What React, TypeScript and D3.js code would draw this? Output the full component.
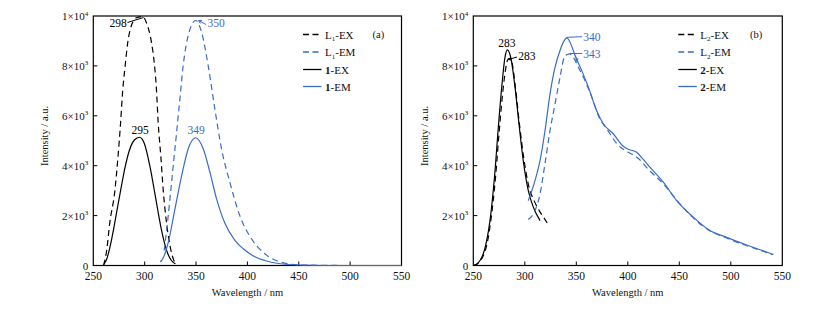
import React from "react";
import * as d3 from "d3";

// ---------- data ----------
// Panel (a)
const L1_EX_WL = [260, 263, 266, 271, 274, 276.5, 278.6, 281, 283.4, 287.3, 292, 298, 302, 306.8, 309.4, 311.4, 313.2, 315.8, 318.1, 321.4, 325.6, 330];
const L1_EX_I = [0, 600, 1700, 3000, 4340, 5680, 7000, 8000, 8900, 9640, 9930, 9980, 9700, 8900, 8100, 7100, 5700, 4340, 3000, 1670, 600, 50];

const L1_EM_WL = [319, 322.3, 324.6, 327.8, 331.1, 334.3, 337.5, 342.4, 349.6, 355.4, 361.8, 368.3, 374.8, 382.9, 392.6, 404, 417, 433, 453, 500, 550];
const L1_EM_I = [600, 1740, 2670, 4000, 5340, 6680, 8020, 9220, 9820, 9350, 8020, 6280, 4680, 3340, 2000, 1070, 470, 130, 20, 0, 0];

const C1_EX_WL = [260, 263, 266, 269.5, 273, 277, 281, 285, 290, 295, 299.6, 305, 310, 316.5, 321.4, 326, 330];
const C1_EX_I = [30, 250, 700, 1400, 2200, 3100, 3950, 4600, 5030, 5140, 4900, 4000, 2870, 1400, 600, 200, 70];

const C1_EM_WL = [315, 316.5, 323, 329.5, 336, 342.4, 349.6, 357, 363.5, 370, 378, 388, 396, 405, 417, 430, 450, 500, 550];
const C1_EM_I = [150, 200, 930, 2270, 3600, 4680, 5120, 4680, 3740, 2670, 1700, 1000, 670, 400, 200, 80, 20, 0, 0];

// Panel (b)
const L2_EX_WL = [250, 253, 256.5, 260, 263.5, 267, 271.5, 275, 278.5, 281.5, 283.5, 285.5, 288, 291, 295, 299, 304, 309, 314, 318, 321.8];
const L2_EX_I = [0, 30, 180, 420, 900, 1800, 3500, 5300, 6900, 7900, 8250, 8300, 8050, 7100, 5600, 4300, 3150, 2600, 2200, 1950, 1700];

const L2_EM_WL = [303.4, 309.9, 314.8, 319.6, 324.5, 329.4, 334.2, 338.4, 341.4, 343.4, 347, 352, 358, 365, 372, 380, 390, 400, 410, 420, 435, 450, 465, 480, 496, 512, 528, 541];
const L2_EM_I = [1840, 2200, 2870, 4080, 5410, 6480, 7550, 8350, 8460, 8480, 8350, 7950, 7450, 6750, 5950, 5450, 4850, 4550, 4300, 3850, 3250, 2500, 1850, 1380, 1100, 840, 620, 430];

const C2_EX_WL = [250, 253, 256.5, 259.7, 263, 266.2, 271.1, 274.3, 277.6, 280.8, 283, 286.3, 290.5, 294.7, 298.5, 303.4, 308.3, 314.8];
const C2_EX_I = [0, 50, 200, 470, 1000, 1800, 3800, 5540, 7150, 8350, 8640, 8350, 7150, 5540, 4200, 3000, 2340, 1800];

const C2_EM_WL = [303.4, 309.9, 314.8, 319.6, 324.5, 329.4, 334.2, 338.4, 340.7, 343.9, 348.8, 355.2, 361.7, 369.8, 376.2, 385.9, 395.6, 401, 408.6, 415, 421.5, 434.5, 447.4, 463.6, 479.8, 496, 512.2, 528.5, 541.4];
const C2_EM_I = [2600, 3400, 4200, 5400, 6880, 7950, 8620, 9020, 9120, 8950, 8420, 7820, 7150, 6200, 5680, 5280, 4780, 4650, 4540, 4250, 3940, 3340, 2600, 1940, 1400, 1130, 870, 630, 440];

const X_TICKS = [250, 300, 350, 400, 450, 500, 550];
const Y_TICKS = [0, 2000, 4000, 6000, 8000, 10000];
const Y_TICK_LABELS = [["0", ""], ["2×10", "3"], ["4×10", "3"], ["6×10", "3"], ["8×10", "3"], ["1×10", "4"]];

const BLUE = "#3a6cc6";
const FONT = "'Liberation Serif', 'Times New Roman', serif";

type Series = { wl: number[]; v: number[]; color: string; dashed: boolean };

type Legend = { pre: string; sub?: string; bold?: string; post: string; color: string; dashed: boolean };

type Annot = { text: string; color: string; tx: number; ty: number; line?: [number, number, number, number]; arrow?: boolean };

const yScale = d3.scaleLinear().domain([0, 10000]).range([265.5, 16]);

function Panel({ x0, x1, series, legend, legendX, tag, tagX, annots }: {
  x0: number; x1: number; series: Series[]; legend: Legend[]; legendX: number; tag: string; tagX: number; annots: Annot[];
}) {
  const x = d3.scaleLinear().domain([250, 550]).range([x0, x1]);
  const y = yScale;
  const line = (s: Series) =>
    d3.line<number>().x((_, i) => x(s.wl[i])).y((d) => y(d)).curve(d3.curveMonotoneX)(s.v) || "";
  const yb = y(0), yt = y(10000);
  const legY = [34.5, 52, 69.5, 86.5];
  return (
    <g fontFamily={FONT}>
      <rect x={x0} y={yt} width={x1 - x0} height={yb - yt} fill="none" stroke="#000" strokeWidth={1.2} />
      {X_TICKS.slice(1, -1).map((t) => (
        <line key={"xt" + t} x1={x(t)} x2={x(t)} y1={yb} y2={yb - 4} stroke="#000" strokeWidth={1} />
      ))}
      {Y_TICKS.slice(1, -1).map((t) => (
        <line key={"yt" + t} x1={x0} x2={x0 + 4} y1={y(t)} y2={y(t)} stroke="#000" strokeWidth={1} />
      ))}
      {X_TICKS.map((t) => (
        <text key={"xl" + t} x={x(t)} y={280} fontSize={11.5} textAnchor="middle" fill="#111">{t}</text>
      ))}
      {Y_TICKS.map((t, i) => (
        <text key={"yl" + t} x={x0 - 5} y={y(t) + 4} fontSize={11} textAnchor="end" fill="#111">
          {Y_TICK_LABELS[i][0]}
          {Y_TICK_LABELS[i][1] ? <tspan dy={-4.5} fontSize={7}>{Y_TICK_LABELS[i][1]}</tspan> : null}
        </text>
      ))}
      <text x={(x0 + x1) / 2} y={295.5} fontSize={10.5} textAnchor="middle" fill="#111">Wavelength / nm</text>
      <text transform={`translate(${x0 - 45},${136}) rotate(-90)`} fontSize={10.5} textAnchor="middle" fill="#111">Intensity / a.u.</text>
      {series.map((s, i) => (
        <path key={"s" + i} d={line(s)} fill="none" stroke={s.color} strokeWidth={1.2}
          strokeDasharray={s.dashed ? "6,4" : undefined} />
      ))}
      {legend.map((l, i) => (
        <g key={"lg" + i}>
          <line x1={legendX} x2={legendX + 18.5} y1={legY[i]} y2={legY[i]} stroke={l.color} strokeWidth={1.3}
            strokeDasharray={l.dashed ? "6,3.5" : undefined} />
          <text x={legendX + 22} y={legY[i] + 4} fontSize={11} fill="#111">
            {l.bold ? <tspan fontWeight="bold">{l.bold}</tspan> : null}
            {l.pre}
            {l.sub ? <tspan dy={2.5} fontSize={7}>{l.sub}</tspan> : null}
            {l.sub ? <tspan dy={-2.5}>{l.post}</tspan> : l.post}
          </text>
        </g>
      ))}
      <text x={tagX} y={38} fontSize={10.5} fill="#111">{tag}</text>
      {annots.map((a, i) => (
        <g key={"an" + i}>
          {a.line ? (
            <line x1={a.line[0]} y1={a.line[1]} x2={a.line[2]} y2={a.line[3]} stroke={a.color} strokeWidth={1} />
          ) : null}
          {a.line && a.arrow ? (() => {
            const [ax1, ay1, ax2, ay2] = a.line;
            const ang = Math.atan2(ay2 - ay1, ax2 - ax1);
            const L = 3.5, w = 0.5;
            const p1 = [ax2 - L * Math.cos(ang - w), ay2 - L * Math.sin(ang - w)];
            const p2 = [ax2 - L * Math.cos(ang + w), ay2 - L * Math.sin(ang + w)];
            return <path d={`M${p1[0]},${p1[1]}L${ax2},${ay2}L${p2[0]},${p2[1]}`} fill="none" stroke={a.color} strokeWidth={1} />;
          })() : null}
          <text x={a.tx} y={a.ty} fontSize={11.5} fill={a.color}>{a.text}</text>
        </g>
      ))}
    </g>
  );
}

export default function App() {
  const seriesA: Series[] = [
    { wl: C1_EX_WL, v: C1_EX_I, color: "#000", dashed: false },
    { wl: L1_EX_WL, v: L1_EX_I, color: "#000", dashed: true },
    { wl: L1_EM_WL, v: L1_EM_I, color: BLUE, dashed: true },
    { wl: C1_EM_WL, v: C1_EM_I, color: BLUE, dashed: false },
  ];
  const seriesB: Series[] = [
    { wl: L2_EX_WL, v: L2_EX_I, color: "#000", dashed: true },
    { wl: C2_EX_WL, v: C2_EX_I, color: "#000", dashed: false },
    { wl: L2_EM_WL, v: L2_EM_I, color: BLUE, dashed: true },
    { wl: C2_EM_WL, v: C2_EM_I, color: BLUE, dashed: false },
  ];
  const legA: Legend[] = [
    { pre: "L", sub: "1", post: "-EX", color: "#000", dashed: true },
    { pre: "L", sub: "1", post: "-EM", color: BLUE, dashed: true },
    { pre: "", bold: "1", post: "-EX", color: "#000", dashed: false },
    { pre: "", bold: "1", post: "-EM", color: BLUE, dashed: false },
  ];
  const legB: Legend[] = [
    { pre: "L", sub: "2", post: "-EX", color: "#000", dashed: true },
    { pre: "L", sub: "2", post: "-EM", color: BLUE, dashed: true },
    { pre: "", bold: "2", post: "-EX", color: "#000", dashed: false },
    { pre: "", bold: "2", post: "-EM", color: BLUE, dashed: false },
  ];
  const annA: Annot[] = [
    { text: "298", color: "#000", tx: 109.5, ty: 26.5, line: [127.5, 22.5, 143.5, 17.5] },
    { text: "350", color: BLUE, tx: 207.5, ty: 26.5, line: [206, 24.5, 198.5, 20.5], arrow: true },
    { text: "295", color: "#000", tx: 131.5, ty: 134.3 },
    { text: "349", color: BLUE, tx: 187.5, ty: 134.3 },
  ];
  const annB: Annot[] = [
    { text: "283", color: "#000", tx: 498.3, ty: 46.7 },
    { text: "283", color: "#000", tx: 518.3, ty: 60, line: [517, 57, 508.5, 59.5], arrow: true },
    { text: "340", color: BLUE, tx: 583.3, ty: 40.7, line: [566.7, 37.3, 582, 36.7] },
    { text: "343", color: BLUE, tx: 583.3, ty: 58.3, line: [570, 53.5, 582, 53.5] },
    { text: "", color: BLUE, tx: 0, ty: 0, line: [575.3, 55.5, 577.3, 61.7], arrow: true },
  ];
  return (
    <svg width={827} height={311} style={{ position: "absolute", left: 0, top: 0, background: "#fff" }}>
      <rect width={827} height={311} fill="#fff" />
      <Panel x0={93.3} x1={401.5} series={seriesA} legend={legA} legendX={303} tag="(a)" tagX={372.5} annots={annA} />
      <Panel x0={473.3} x1={782.3} series={seriesB} legend={legB} legendX={678.3} tag="(b)" tagX={750} annots={annB} />
    </svg>
  );
}
